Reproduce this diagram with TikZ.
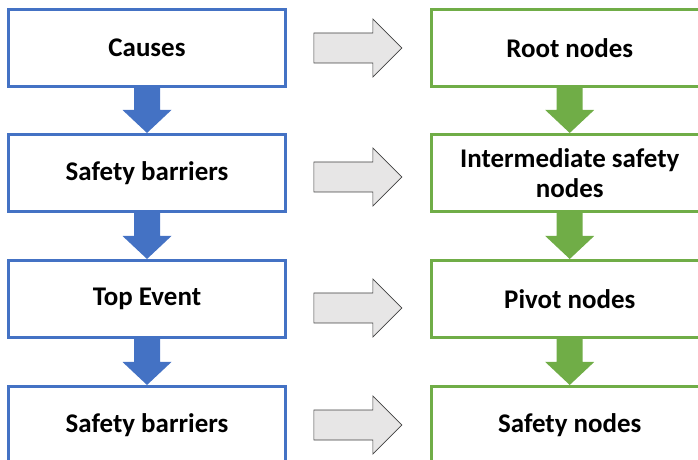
\documentclass[tikz,border=0pt]{standalone}
\usepackage{fontspec}
\setmainfont{Carlito}
\usepackage{tikz}
\usetikzlibrary{positioning,calc}
\definecolor{BTBlue}{HTML}{4472C4}
\definecolor{BNGreen}{HTML}{70AD47}
\definecolor{BNGray}{HTML}{E7E6E6}
\definecolor{BNEdge}{HTML}{404040}

% block arrow pointing down from #1 to #2
\newcommand{\downblock}[3]{%
  \fill[#3] ($(#1.south)+(-13,0)$) -- ($(#2.north)+(-13,-23)$) -- ($(#2.north)+(-24.5,-23)$)
    -- (#2.north) -- ($(#2.north)+(24.5,-23)$) -- ($(#2.north)+(13,-23)$) -- ($(#1.south)+(13,0)$) -- cycle;}
% block arrow pointing right, between #1 and #2, shifted down by #3
\newcommand{\rightblock}[3]{%
  \draw[graybody] ($(#1.east)+(27,#3-15)$) -- ($(#2.west)+(-57,#3-15)$) -- ($(#2.west)+(-57,#3-29)$)
    -- ($(#2.west)+(-28,#3)$) -- ($(#2.west)+(-57,#3+29)$) -- ($(#2.west)+(-57,#3+15)$)
    -- ($(#1.east)+(27,#3+15)$) -- cycle;}

\begin{document}
\begin{tikzpicture}[
  x=0.03cm, y=-0.03cm,
  node distance=48mm and 42.9mm,
  leftbox/.style={draw=BTBlue, line width=2.6pt, fill=white, minimum height=23.1mm, minimum width=83mm, align=center, font=\fontsize{23}{26}\selectfont\bfseries, inner sep=0pt},
  rightbox/.style={leftbox, draw=BNGreen},
  graybody/.style={draw=BNEdge, fill=BNGray, line width=0.6pt, line join=miter}
]
\useasboundingbox (0,0) rectangle (698,460);
\begin{scope}
\clip (0,0) rectangle (698,460);
\node[leftbox] (causes) at (147,48) {Causes};
\node[leftbox] (barrier1) at (147,173) {Safety barriers};
\node[leftbox] (top) at (147,299) {Top Event};
\node[leftbox] (barrier2) at (147,425) {Safety barriers};

\node[rightbox, right=of causes] (root) {Root nodes};
\node[rightbox, right=of barrier1] (inter) {Intermediate safety\\nodes};
\node[rightbox, right=of top] (pivot) {Pivot nodes};
\node[rightbox, right=of barrier2] (safety) {Safety nodes};

\downblock{causes}{barrier1}{BTBlue}
\downblock{barrier1}{top}{BTBlue}
\downblock{top}{barrier2}{BTBlue}
\downblock{root}{inter}{BNGreen}
\downblock{inter}{pivot}{BNGreen}
\downblock{pivot}{safety}{BNGreen}

\rightblock{causes}{root}{0}
\rightblock{barrier1}{inter}{4}
\rightblock{top}{pivot}{9}
\rightblock{barrier2}{safety}{0}
\end{scope}
\end{tikzpicture}
\end{document}
